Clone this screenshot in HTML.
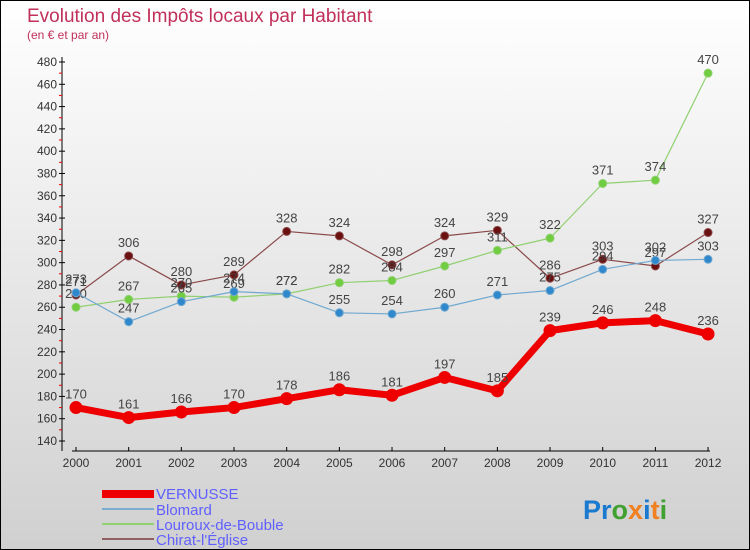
<!DOCTYPE html>
<html><head><meta charset="utf-8"><style>
body{margin:0}
#c{width:750px;height:550px;position:relative;box-sizing:border-box;border:1px solid #000;background:linear-gradient(#fff,#d0d0d0);font-family:"Liberation Sans",sans-serif;overflow:hidden}
</style></head><body>
<div id="c">
<svg id="s" width="748" height="548" style="position:absolute;left:0;top:0" font-family="Liberation Sans, sans-serif">
<text x="26" y="21" font-size="19" fill="#c0305a">Evolution des Impôts locaux par Habitant</text>
<text x="26" y="38" font-size="12" fill="#c0305a">(en € et par an)</text>
<g id="axes"></g><g id="series"></g>
<g font-size="15" fill="#6060ff">
<rect x="101" y="489" width="52" height="8" fill="#e00"/>
<text x="155" y="498">VERNUSSE</text>
<line x1="101" y1="508" x2="153" y2="508" stroke="#7aaed0" stroke-width="2"/>
<text x="155" y="514">Blomard</text>
<line x1="101" y1="523" x2="153" y2="523" stroke="#90d070" stroke-width="2"/>
<text x="155" y="529">Louroux-de-Bouble</text>
<line x1="101" y1="538" x2="153" y2="538" stroke="#906060" stroke-width="2"/>
<text x="155" y="544">Chirat-l'Église</text>
</g>
<text x="582" y="518" font-size="27" font-weight="bold"><tspan fill="#1a7ad0">Pr</tspan><tspan fill="#40a030">o</tspan><tspan fill="#f08020">x</tspan><tspan fill="#1a7ad0">i</tspan><tspan fill="#f08020">t</tspan><tspan fill="#40a030">i</tspan></text>
</svg>
</div>
<script>
const years=[2000,2001,2002,2003,2004,2005,2006,2007,2008,2009,2010,2011,2012];
const vernusse=[170,161,166,170,178,186,181,197,185,239,246,248,236];
const blomard=[273,247,265,274,272,255,254,260,271,275,294,302,303];
const louroux=[260,267,270,269,272,282,284,297,311,322,371,374,470];
const chirat=[271,306,280,289,328,324,298,324,329,286,303,297,327];
const yTicks=[140,160,180,200,220,240,260,280,300,320,340,360,380,400,420,440,460,480];
const NS='http://www.w3.org/2000/svg';
const X=i=>75+i*52.67;
const Y=v=>440-(v-140)*1.1147;
function mk(t,a,p){const e=document.createElementNS(NS,t);for(const k in a)e.setAttribute(k,a[k]);p.appendChild(e);return e;}
const ax=document.getElementById('axes');
mk('line',{x1:61,y1:56,x2:61,y2:450,stroke:'#000'},ax);
mk('line',{x1:71,y1:450,x2:709,y2:450,stroke:'#000'},ax);
yTicks.forEach(v=>{
 mk('line',{x1:58,y1:Y(v),x2:64,y2:Y(v),stroke:'#000'},ax);
 if(v<480)mk('line',{x1:58,y1:Y(v+10),x2:61,y2:Y(v+10),stroke:'#e00'},ax);
 const t=mk('text',{x:56,y:Y(v)+4,'font-size':12,'text-anchor':'end',fill:'#333'},ax);
 
 
 t.textContent=v;
});
years.forEach((yr,i)=>{
 mk('line',{x1:X(i),y1:446,x2:X(i),y2:450,stroke:'#000'},ax);
 const t=mk('text',{x:X(i),y:466,'font-size':12,'text-anchor':'middle',fill:'#333'},ax);
 
 
 t.textContent=yr;
});
const sg=document.getElementById('series');
function draw(name,data,color,w,r,dot){
 const g=mk('g',{},sg);
 
 
 mk('polyline',{points:data.map((v,i)=>X(i)+','+Y(v)).join(' '),fill:'none',stroke:color,'stroke-width':w,'stroke-linejoin':'round'},g);
 data.forEach((v,i)=>{
  const c=mk('circle',{cx:X(i),cy:Y(v),r:r,fill:dot,stroke:color,'stroke-width':1},g);
  
  
  const t=mk('text',{x:X(i),y:Y(v)-9,'font-size':13,'text-anchor':'middle',fill:'#444'},g);
  
  
  t.textContent=v;
 });
}
draw('chirat',chirat,'#8a4a4a',1.2,4,'#6a1010');
draw('louroux',louroux,'#90d070',1.2,4,'#70cc40');
draw('blomard',blomard,'#70a8d0',1.2,4,'#3088cc');
draw('vernusse',vernusse,'#e00',7,6,'#e00');
</script>
</body></html>
